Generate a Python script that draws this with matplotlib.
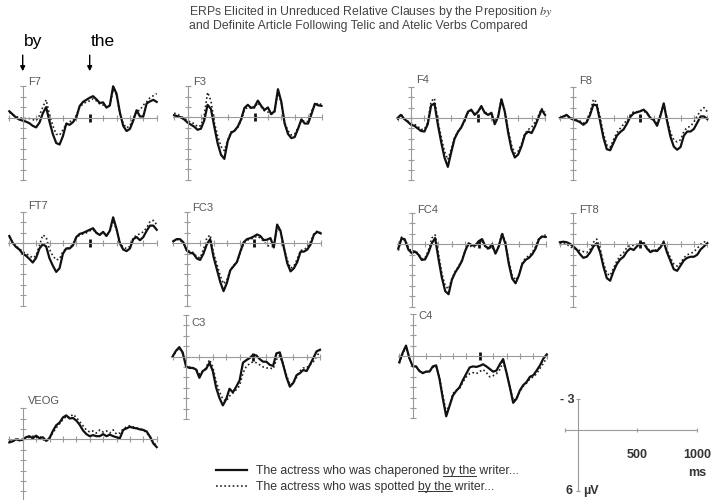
import numpy as np
import matplotlib.pyplot as plt
from matplotlib.lines import Line2D

plt.rcParams['font.family'] = ['Liberation Sans', 'DejaVu Sans']

# time axis (ms) shared by all electrodes
times = np.arange(-100, 1001, 25)

# amplitudes in microvolts (negative up)
f7_solid = [-0.6, -0.3, 0.0, 0.2, 0.3, 0.4, 0.55, 0.8, 0.95,
            0.5, -0.4, -1.0, 0.4, 1.6, 2.45, 2.6, 1.8, 0.6,
            0.7, 0.45, 0.0, -1.1, -1.5, -1.7, -1.9, -2.05, -1.75,
            -1.4, -1.45, -0.95, -1.15, -3.0, -2.3, -0.5, 0.8, 1.3,
            1.1, 0.3, -0.7, -0.1, -0.1, -1.35, -1.55, -1.7, -1.5]
f7_dot = [-0.5, -0.3, -0.1, 0.0, 0.1, 0.1, 0.1, 0.2, 0.3,
          -0.2, -1.0, -1.7, -0.3, 0.8, 1.6, 1.7, 1.2, 0.6,
          0.4, 0.3, -0.2, -1.0, -1.3, -1.5, -1.6, -1.8, -1.6,
          -1.3, -1.2, -1.0, -1.2, -2.7, -2.2, -0.4, 0.6, 1.0,
          0.8, 0.1, -0.6, -0.7, -1.2, -1.5, -1.9, -2.1, -2.3]

f3_solid = [-0.2, -0.1, 0.0, 0.2, 0.5, 0.7, 0.9, 1.2, 1.1,
            0.3, -1.2, -0.8, 0.9, 2.5, 3.6, 4.0, 2.3, 1.5,
            1.3, 0.9, 0.2, -0.9, -1.2, -0.9, -1.0, -1.6, -1.1,
            -0.7, -0.95, -0.3, -0.6, -2.7, -1.5, 0.6, 1.6, 2.0,
            1.9, 1.1, 0.2, 0.6, 0.6, -0.3, -1.3, -1.15, -1.1]
f3_dot = [-0.4, -0.3, -0.1, 0.1, 0.3, 0.5, 0.6, 0.9, 0.8,
          -0.2, -2.4, -1.6, 0.5, 1.8, 2.8, 3.2, 2.2, 1.4,
          1.3, 1.0, 0.3, -0.7, -1.0, -0.9, -0.9, -1.4, -1.0,
          -0.6, -0.5, -0.3, -0.5, -2.5, -1.4, 0.5, 1.3, 1.7,
          1.6, 1.0, 0.3, 0.4, 0.4, -0.6, -1.1, -1.4, -1.2]

f4_solid = [0.0, -0.3, 0.1, 0.35, 0.65, 0.75, 1.0, 1.25, 1.3,
            0.6, -1.2, -1.4, 0.6, 2.3, 3.8, 4.7, 3.3, 2.0,
            1.35, 0.9, 0.2, -0.6, -0.8, -0.3, -0.6, -1.15, -0.5,
            -0.3, -0.5, 0.6, -0.1, -1.8, -0.6, 1.4, 3.0, 3.8,
            3.5, 2.7, 1.6, 1.3, 1.45, 0.8, 0.0, -0.8, -0.3]
f4_dot = [0.2, -0.4, 0.1, 0.3, 0.5, 0.6, 0.8, 1.1, 1.1,
          0.4, -1.6, -1.9, 0.3, 1.8, 3.2, 4.0, 3.0, 1.9,
          1.3, 0.9, 0.3, -0.5, -0.7, -0.4, -0.6, -1.0, -0.6,
          -0.4, -0.3, 0.4, -0.2, -1.9, -0.7, 1.1, 2.6, 3.4,
          3.2, 2.5, 1.5, 1.1, 0.9, 0.4, -0.2, -0.9, -0.6]

f8_solid = [0.0, -0.15, -0.3, 0.0, 0.15, 0.25, 0.4, 0.65, 0.4,
            -0.3, -1.3, -1.2, 0.3, 1.9, 3.0, 3.1, 2.4, 1.7,
            1.35, 1.1, 0.55, -0.1, -0.45, -0.55, -0.65, -0.8, -0.5,
            0.0, 0.2, 0.75, -0.2, -1.4, 0.3, 1.8, 2.75, 3.05,
            2.8, 1.7, 1.3, 1.3, 1.05, 0.45, -0.15, -0.15, 0.1]
f8_dot = [0.0, -0.1, -0.2, -0.1, 0.1, 0.2, 0.3, 0.5, 0.3,
          -0.5, -1.8, -1.5, 0.0, 1.5, 2.6, 2.8, 2.1, 1.4,
          1.0, 0.6, 0.2, -0.3, -0.6, -0.6, -0.7, -0.7, -0.4,
          0.0, 0.1, 0.5, -0.3, -1.4, 0.1, 1.4, 2.1, 2.3,
          2.1, 1.3, 0.9, 0.8, 0.4, -0.2, -0.7, -1.0, -0.6]

ft7_solid = [-0.7, -0.05, 0.35, 0.6, 1.0, 1.2, 1.5, 1.85, 1.4,
             0.5, 0.1, 0.3, 1.45, 2.15, 2.75, 2.4, 1.0, 0.5,
             0.5, 0.2, -0.6, -0.9, -1.0, -1.15, -1.3, -1.45, -1.0,
             -0.8, -1.1, -0.7, -1.2, -2.5, -1.4, 0.0, 0.6, 0.75,
             0.5, -0.4, -0.6, -0.3, -0.6, -1.2, -1.7, -1.7, -1.3]
ft7_dot = [-0.6, -0.1, 0.3, 0.5, 0.8, 1.0, 1.2, 1.4, 1.2,
           0.2, -0.8, -0.6, 0.6, 1.2, 1.6, 1.5, 0.8, 0.5,
           0.4, 0.1, -0.5, -0.8, -0.9, -1.0, -1.2, -1.3, -1.0,
           -0.9, -1.0, -0.8, -1.1, -2.2, -1.3, -0.1, 0.4, 0.5,
           0.3, -0.5, -0.8, -0.9, -1.1, -1.5, -2.1, -2.2, -1.8]

fc3_solid = [-0.2, -0.4, -0.4, -0.1, 0.7, 0.9, 1.0, 1.45, 1.6,
             1.0, 0.1, -0.4, 1.3, 2.5, 3.7, 4.6, 3.8, 2.6,
             2.2, 1.8, 0.8, -0.1, -0.4, -0.5, -0.65, -0.85, -0.7,
             -0.3, -0.35, -0.5, 0.4, -1.8, -1.2, 0.4, 1.9, 2.7,
             2.4, 1.8, 0.8, 0.8, 0.6, 0.1, -0.85, -1.1, -0.95]
fc3_dot = [-0.2, -0.4, -0.3, 0.0, 0.6, 0.8, 0.9, 1.3, 1.4,
           0.6, -0.5, -0.8, 0.9, 2.0, 3.1, 3.9, 3.5, 2.6,
           2.1, 1.8, 0.9, 0.0, -0.3, -0.4, -0.5, -0.7, -0.5,
           -0.2, 0.2, 0.3, 0.3, -1.6, -1.1, 0.4, 1.6, 2.4,
           2.2, 1.5, 0.7, 0.6, 0.4, -0.2, -0.9, -1.2, -1.0]

fc4_solid = [0.4, -0.6, -0.4, 0.5, 0.85, 0.7, 1.0, 1.5, 1.45,
             0.8, -0.1, -0.6, 1.4, 3.2, 4.5, 4.8, 3.4, 2.7,
             2.2, 1.6, 0.6, -0.1, 0.1, 0.1, -0.3, -0.5, 0.2,
             0.4, 0.0, 0.9, 0.2, -1.0, 0.0, 1.9, 3.3, 3.75,
             3.0, 1.9, 1.5, 1.3, 0.95, 0.4, -0.5, -0.75, -0.7]
fc4_dot = [0.6, -0.7, -0.5, 0.3, 0.7, 0.6, 0.9, 1.4, 1.3,
           0.6, -0.6, -0.9, 0.9, 2.8, 4.0, 4.3, 3.3, 2.6,
           2.1, 1.5, 0.6, 0.0, 0.3, 0.2, 0.0, -0.4, 0.3,
           0.5, 0.2, 0.9, 0.1, -1.1, -0.1, 1.6, 3.0, 3.45,
           2.9, 1.8, 1.3, 1.1, 0.8, 0.2, -0.6, -0.8, -0.9]

ft8_solid = [-0.2, -0.25, -0.2, -0.05, 0.2, 0.5, 0.95, 1.3, 1.2,
             0.8, 0.2, -0.1, 0.75, 2.15, 3.25, 3.5, 2.6, 1.9,
             1.45, 1.2, 0.7, 0.4, 0.55, 0.2, -0.1, -0.1, 0.4,
             0.75, 0.6, 0.65, 0.3, -0.2, 0.8, 1.6, 2.4, 2.55,
             2.05, 1.55, 1.3, 1.2, 1.2, 1.0, 0.5, 0.2, -0.1]
ft8_dot = [-0.1, -0.2, 0.0, 0.2, 0.4, 0.5, 0.6, 0.7, 0.8,
           0.5, -0.2, -0.5, 0.4, 1.8, 2.8, 3.0, 2.3, 1.6,
           1.1, 0.8, 0.3, 0.1, 0.1, 0.0, -0.2, -0.2, 0.3,
           0.7, 0.5, 0.6, 0.2, -0.3, 0.6, 1.3, 1.9, 2.1,
           1.8, 1.3, 1.0, 0.9, 0.7, 0.4, 0.0, -0.2, -0.4]

c3_solid = [0.0, -0.55, -0.9, -0.4, 0.95, 1.1, 1.1, 1.25, 2.05,
            1.4, 1.2, 0.6, 1.4, 3.0, 4.0, 4.7, 4.1, 3.1,
            3.45, 2.9, 2.3, 0.6, 0.35, 0.15, -0.15, -0.1, 0.25,
            0.5, 0.5, 0.8, 0.9, -0.3, -0.4, 0.8, 2.0, 2.9,
            2.55, 1.8, 1.6, 1.3, 1.4, 0.8, 0.15, -0.5, -0.65]
c3_dot = [0.1, -0.5, -0.8, -0.3, 0.8, 1.0, 1.1, 1.2, 1.7,
          1.4, 1.1, 0.3, 1.0, 2.4, 3.4, 4.1, 4.3, 3.8,
          3.5, 3.2, 2.8, 1.6, 0.95, 0.7, 0.5, 0.6, 0.8,
          1.0, 1.1, 1.1, 1.2, 0.3, -0.1, 0.7, 1.8, 2.7,
          2.6, 2.0, 1.4, 1.1, 1.1, 0.8, 0.5, 0.0, -0.5]

c4_solid = [0.6, -0.3, -1.0, 0.2, 1.0, 1.0, 1.45, 1.65, 1.5,
            1.5, 1.0, 0.9, 2.2, 4.1, 5.8, 4.8, 3.8, 3.35,
            3.0, 2.3, 1.7, 1.1, 1.0, 1.05, 0.95, 0.8, 1.0,
            1.25, 1.5, 1.4, 0.8, 0.3, 1.6, 3.0, 4.5, 4.1,
            3.3, 2.8, 2.5, 2.0, 1.85, 1.4, 0.9, 0.25, -0.15]
c4_dot = [0.7, -0.2, -0.9, 0.2, 0.9, 1.0, 1.4, 1.6, 1.5,
          1.5, 1.1, 1.0, 2.1, 3.8, 5.4, 4.7, 3.6, 3.3,
          3.1, 2.5, 2.0, 1.7, 1.6, 1.7, 1.5, 1.3, 1.6,
          2.0, 1.9, 1.7, 1.3, 0.6, 1.6, 3.0, 4.3, 4.1,
          3.4, 2.9, 2.6, 2.2, 2.0, 1.7, 1.2, 0.7, 0.2]

veog_solid = [0.3, 0.2, 0.0, 0.1, 0.05, -0.2, -0.3, -0.1, -0.35,
              -0.1, -0.2, 0.15, -0.1, -0.8, -1.35, -1.6, -2.1, -2.3,
              -2.0, -2.05, -1.8, -1.4, -0.85, -0.5, -0.3, -0.4, -0.3,
              -0.3, -0.5, -0.3, -0.45, -0.3, -0.2, -0.1, -0.9, -1.05,
              -1.2, -1.1, -1.05, -0.95, -0.9, -0.75, -0.25, 0.4, 0.75]
veog_dot = [0.2, 0.1, 0.1, -0.1, 0.1, -0.1, -0.2, -0.3, -0.2,
            -0.3, 0.0, 0.2, -0.2, -0.6, -1.1, -1.5, -1.9, -2.2,
            -2.1, -2.4, -2.1, -1.7, -1.3, -0.9, -0.7, -0.8, -0.6,
            -0.9, -0.7, -0.8, -0.6, -0.9, -0.5, -0.6, -1.0, -1.2,
            -1.3, -1.2, -1.1, -1.0, -0.9, -0.6, -0.3, 0.3, 0.6]

events = [0, 500]
event_words = ['by', 'the']
legend_labels = ['The actress who was chaperoned by the writer...',
                 'The actress who was spotted by the writer...']

# layout: name -> (y-axis x px, zero-line y px, top of y axis, label y)
panels = {
    'F7': (22.7, 117.5, -3, -3.4, f7_solid, f7_dot),
    'F3': (187.5, 117.3, -3, -3.4, f3_solid, f3_dot),
    'F4': (411.0, 118.0, -3, -3.7, f4_solid, f4_dot),
    'F8': (573.3, 118.0, -3, -3.6, f8_solid, f8_dot),
    'FT7': (22.7, 243.3, -3, -3.6, ft7_solid, ft7_dot),
    'FC3': (186.7, 243.3, -3, -3.4, fc3_solid, fc3_dot),
    'FC4': (411.7, 244.3, -3, -3.3, fc4_solid, fc4_dot),
    'FT8': (573.3, 244.3, -3, -3.3, ft8_solid, ft8_dot),
    'C3': (186.0, 356.5, -4, -3.2, c3_solid, c3_dot),
    'C4': (412.7, 356.0, -4, -3.8, c4_solid, c4_dot),
    'VEOG': (22.7, 439.3, -3, -3.7, veog_solid, veog_dot),
}

W, H = 715, 500
AX_COL = '#9a9a9a'
fig = plt.figure(figsize=(W / 100, H / 100), dpi=100)


def make_axes(x0, y0, xs, ys):
    # xs: px per ms, ys: px per uV; axes spans -150..1050 ms, -4.5..6.5 uV
    left = x0 - 150 * xs
    top = y0 - 4.5 * ys
    w = 1200 * xs
    h = 11 * ys
    ax = fig.add_axes([left / W, 1 - (top + h) / H, w / W, h / H])
    ax.set_xlim(-150, 1050)
    ax.set_ylim(6.5, -4.5)
    ax.patch.set_visible(False)
    for s in ['top', 'right']:
        ax.spines[s].set_visible(False)
    for s in ['left', 'bottom']:
        ax.spines[s].set_position(('data', 0))
        ax.spines[s].set_color(AX_COL)
        ax.spines[s].set_linewidth(0.8)
    ax.tick_params(direction='inout', length=4, width=0.8, color=AX_COL,
                   labelbottom=False, labelleft=False)
    return ax


solid_handle = dot_handle = None
f7_ax = None
for name, (x0, y0, ytop, laby, sol, dot) in panels.items():
    ax = make_axes(x0, y0, 0.134, 10.4)
    ax.spines['left'].set_bounds(ytop, 6)
    ax.spines['bottom'].set_bounds(-110, 1000)
    ax.set_xticks(np.arange(-100, 1001, 100))
    ax.set_yticks(np.arange(ytop, 7, 1))
    d, = ax.plot(times, dot, color='#222', lw=1.2, ls=(0, (1, 1.5)))
    s, = ax.plot(times, sol, color='#111', lw=1.6)
    if name != 'VEOG':
        ax.plot([events[1]], [0], marker='|', ms=6, mew=2, color='#111')
    ax.text(40, laby, name, fontsize=8, color='#555', ha='left', va='center')
    if name == 'F7':
        solid_handle, dot_handle, f7_ax = s, d, ax

# word onsets above F7
for t, w in zip(events, event_words):
    f7_ax.annotate('', xy=(t, -4.45), xytext=(t, -6.0), annotation_clip=False,
                   arrowprops=dict(arrowstyle='-|>', color='black', lw=1,
                                   mutation_scale=7, shrinkA=0, shrinkB=0))
    f7_ax.text(t + 10, -7.3, w, fontsize=12.5, ha='left', va='center',
               color='black', clip_on=False)

# calibration axes
sc = make_axes(577.7, 430, 0.1193, 10.2)
sc.spines['left'].set_bounds(-3, 6)
sc.spines['bottom'].set_bounds(-110, 1000)
sc.set_xticks([-110, 500, 1000])
sc.set_yticks([-3, 6])
sc.tick_params(length=3)
kw = dict(fontsize=9, fontweight='bold', color='#333', clip_on=False)
sc.text(-25, -2.9, '- 3', ha='right', va='center', **kw)
sc.text(-45, 6.0, '6', ha='right', va='center', **kw)
sc.text(45, 6.0, 'µV', ha='left', va='center', **kw)
sc.text(500, 2.5, '500', ha='center', va='center', **kw)
sc.text(1000, 2.5, '1000', ha='center', va='center', **kw)
sc.text(1000, 4.2, 'ms', ha='center', va='center', **kw)

# title
fig.text(189 / W, 1 - 12 / H,
         r'ERPs Elicited in Unreduced Relative Clauses by the Preposition $\mathit{by}$',
         math_fontfamily='stix', fontsize=8.8, color='#444', ha='left', va='center')
fig.text(189 / W, 1 - 26 / H,
         'and Definite Article Following Telic and Atelic Verbs Compared',
         fontsize=8.8, color='#444', ha='left', va='center')

leg = fig.legend([solid_handle, dot_handle], legend_labels, loc='center left',
                 bbox_to_anchor=(216 / W, 1 - 479 / H), frameon=False,
                 fontsize=8.8, handlelength=2.5, handletextpad=0.8,
                 labelspacing=0.3, borderpad=0, borderaxespad=0)
for t in leg.get_texts():
    t.set_color('#333')

# underline "by the" in the legend entries
fig.canvas.draw()
r = fig.canvas.get_renderer()
inv = fig.transFigure.inverted()
for t in leg.get_texts():
    txt = t.get_text()
    pre = txt[:txt.index('by the')]
    fp = t.get_fontproperties()

    def wid(s):
        return r.get_text_width_height_descent(s, fp, ismath=False)[0]

    bb = t.get_window_extent(r)
    desc = r.get_text_width_height_descent(txt, fp, ismath=False)[2]
    xa = bb.x0 + wid(pre + 'b') - wid('b')
    xb = bb.x0 + wid(pre + 'by the')
    yb = bb.y0 + desc - 1.5
    (fx0, fy), (fx1, _) = inv.transform([(xa, yb), (xb, yb)])
    fig.add_artist(Line2D([fx0, fx1], [fy, fy], transform=fig.transFigure,
                          color='#333', lw=0.7))

fig.savefig('out.png', dpi=100)
